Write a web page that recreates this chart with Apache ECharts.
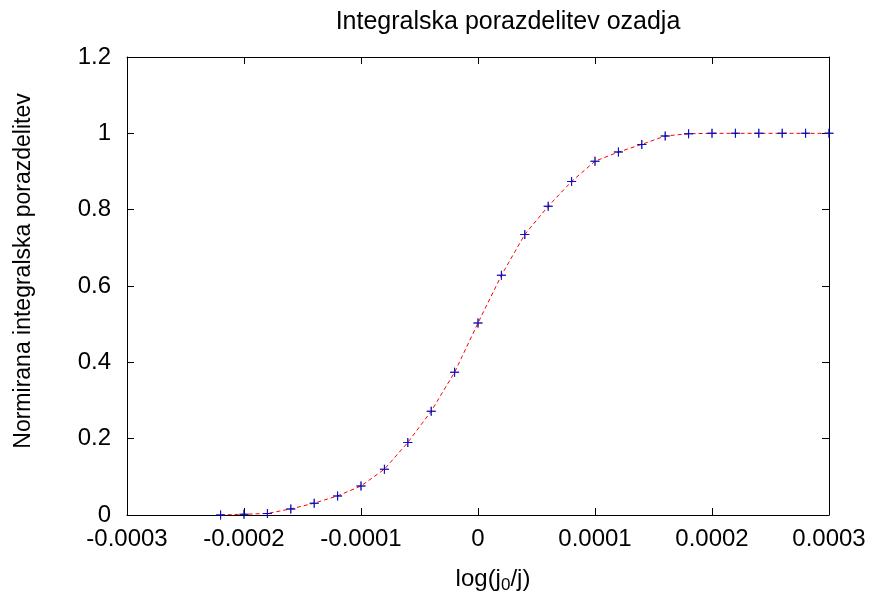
<!DOCTYPE html>
<html>
<head>
<meta charset="utf-8">
<script src="https://cdn.jsdelivr.net/npm/echarts@6/dist/echarts.min.js"></script>
<style>
  html, body { margin: 0; padding: 0; background: #fff; }
  #main { width: 874px; height: 594px; }
</style>
</head>
<body>
<div id="main"></div>
<script>
// x positions log(j0/j)
var xVals = [-0.00022, -0.0002, -0.00018, -0.00016, -0.00014, -0.00012, -0.0001, -0.00008,
  -0.00006, -0.00004, -0.00002, 0, 0.00002, 0.00004, 0.00006, 0.00008, 0.0001, 0.00012,
  0.00014, 0.00016, 0.00018, 0.0002, 0.00022, 0.00024, 0.00026, 0.00028, 0.0003];
// measured (black) and fitted (blue) values
var dataVals = [0, 0.002, 0.004, 0.016, 0.031, 0.05, 0.076, 0.12, 0.19, 0.272, 0.374, 0.503,
  0.628, 0.735, 0.809, 0.874, 0.927, 0.951, 0.971, 0.993, 0.999, 1, 1, 1, 1, 1, 1];
var fitVals = [0, 0.002, 0.004, 0.016, 0.031, 0.05, 0.076, 0.12, 0.19, 0.272, 0.374, 0.503,
  0.628, 0.735, 0.809, 0.874, 0.927, 0.951, 0.971, 0.993, 0.999, 1, 1, 1, 1, 1, 1];
var yTicks = [0, 0.2, 0.4, 0.6, 0.8, 1, 1.2];

function pairs(vals) {
  return xVals.map(function (x, i) { return [x, vals[i]]; });
}

var plus = 'path://M4,0h1v4h4v1h-4v4h-1v-4h-4v-1h4z';
var font = 'Liberation Sans, Arial, sans-serif';

var chart = echarts.init(document.getElementById('main'));
var tickStyle = { show: true, inside: true, length: 7, lineStyle: { color: '#000', width: 1 } };
var lineStyle = { show: true, onZero: false, lineStyle: { color: '#000', width: 1 } };

var option = {
  animation: false,
  title: {
    text: 'Integralska porazdelitev ozadja',
    left: 503, top: 5, textAlign: 'center',
    textStyle: { fontFamily: font, fontSize: 25, fontWeight: 'normal', color: '#000' }
  },
  grid: { left: 127, right: 45, top: 57, bottom: 79, containLabel: false, outerBoundsMode: 'none' },
  xAxis: [{
    type: 'value', min: -0.0003, max: 0.0003, interval: 0.0001,
    name: 'log(j{sub|0}/j)', nameLocation: 'middle', nameGap: 50,
    nameTextStyle: {
      fontFamily: font, fontSize: 24, color: '#000', padding: [0, 0, 0, 30],
      rich: { sub: { fontFamily: font, fontSize: 17, padding: [12, 0, 0, 0], color: '#000' } }
    },
    axisLine: lineStyle,
    axisTick: tickStyle,
    splitLine: { show: false },
    axisLabel: {
      fontFamily: font, fontSize: 24, color: '#000', margin: 12,
      formatter: function (v) { return Math.abs(v) < 1e-12 ? '0' : v.toFixed(4); }
    }
  }, {
    type: 'value', position: 'top', min: -0.0003, max: 0.0003, interval: 0.0001,
    axisLine: lineStyle,
    axisTick: tickStyle, axisLabel: { show: false }, splitLine: { show: false }
  }],
  yAxis: [{
    type: 'value', min: 0, max: 1.2, interval: 0.2,
    name: 'Normirana integralska porazdelitev', nameLocation: 'middle', nameGap: 92,
    nameTextStyle: { fontFamily: font, fontSize: 23, color: '#000', padding: [0, 0, 0, 30] },
    axisLine: lineStyle,
    axisTick: tickStyle,
    splitLine: { show: false },
    axisLabel: {
      fontFamily: font, fontSize: 24, color: '#000', margin: 16,
      formatter: function (v) {
        var t = yTicks.filter(function (k) { return Math.abs(k - v) < 1e-9; })[0];
        return String(t !== undefined ? t : v);
      }
    }
  }, {
    type: 'value', position: 'right', min: 0, max: 1.2, interval: 0.2,
    axisLine: lineStyle,
    axisTick: tickStyle, axisLabel: { show: false }, splitLine: { show: false }
  }],
  series: [{
    type: 'line', data: pairs(fitVals), showSymbol: false, symbol: 'none',
    lineStyle: { color: '#ff0000', width: 1, type: [4, 3] }, z: 2
  }, {
    type: 'scatter', data: pairs(dataVals), symbol: plus, symbolSize: 9,
    itemStyle: { color: '#000' }, z: 3
  }, {
    type: 'scatter', data: pairs(fitVals), symbol: plus, symbolSize: 9,
    itemStyle: { color: '#0000ff', opacity: 0.85 }, z: 4
  }]
};

chart.setOption(option);
</script>
</body>
</html>
